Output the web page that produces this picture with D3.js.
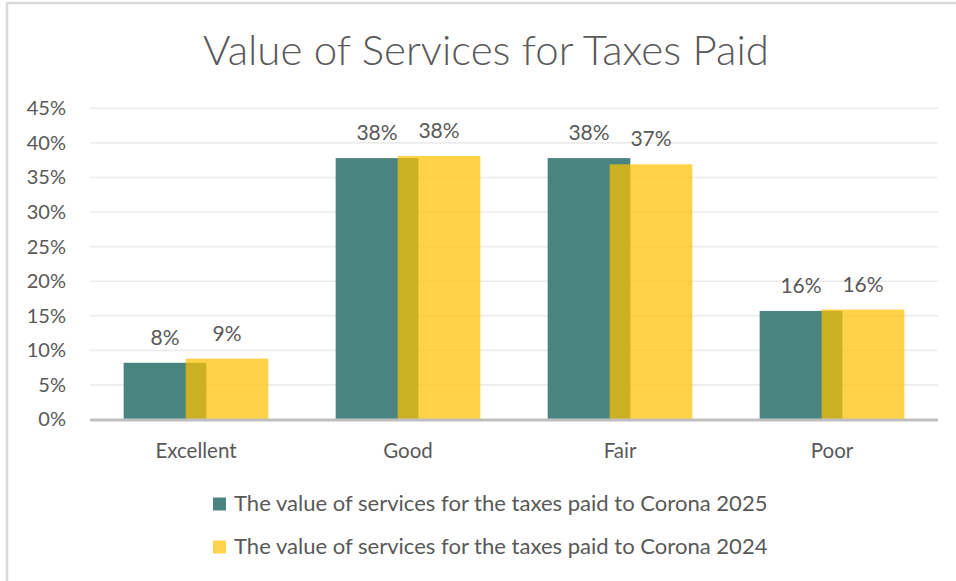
<!DOCTYPE html>
<html>
<head>
<meta charset="utf-8">
<script src="https://cdn.jsdelivr.net/npm/d3@7"></script>
<style>
  html, body { margin: 0; padding: 0; background: #ffffff; }
  svg { display: block; }
  text { font-family: "Lato", "Open Sans", "DejaVu Sans", sans-serif; fill: #595959; }
</style>
</head>
<body>
<svg id="chart" width="956" height="581"></svg>
<script>
// Survey results: rating of the value of services received for taxes paid
const categories = ["Excellent", "Good", "Fair", "Poor"];
const values2025 = [0.082, 0.378, 0.378, 0.157];
const values2024 = [0.088, 0.381, 0.369, 0.159];
const yTickValues = [0, 0.05, 0.10, 0.15, 0.20, 0.25, 0.30, 0.35, 0.40, 0.45];
const seriesNames = [
  "The value of services for the taxes paid to Corona 2025",
  "The value of services for the taxes paid to Corona 2024"
];
const titleText = "Value of Services for Taxes Paid";

const W = 956, H = 581;
const svg = d3.select("#chart");
const pct = d3.format(".0%");

// chart frame
svg.append("line").attr("x1", 6).attr("x2", W).attr("y1", 3).attr("y2", 3)
  .attr("stroke", "#d9d9d9").attr("stroke-width", 2.5);
svg.append("line").attr("x1", 7).attr("x2", 7).attr("y1", 2).attr("y2", H)
  .attr("stroke", "#d9d9d9").attr("stroke-width", 2.5);

// helper: pick a font size so a string spans the given width
function fitSize(sel, targetWidth) {
  sel.attr("font-size", 100);
  const w = sel.node().getComputedTextLength();
  sel.attr("font-size", 100 * targetWidth / w);
}

// title
const title = svg.append("text")
  .attr("x", 486).attr("y", 65)
  .attr("text-anchor", "middle")
  .attr("font-weight", 300)
  .text(titleText);
fitSize(title, 566);

// scales
const plot = { left: 90, right: 938, top: 108.3, bottom: 419.5 };
const x = d3.scaleBand().domain(categories).range([plot.left, plot.right]).padding(0);
const y = d3.scaleLinear().domain([0, 0.45]).range([plot.bottom, plot.top]);

const barW = x.bandwidth() * 0.39;
const shift = barW * 0.75;   // bars overlap by a quarter of their width

// gridlines
svg.append("g").selectAll("line").data(yTickValues.filter(d => d > 0)).join("line")
  .attr("x1", plot.left).attr("x2", plot.right)
  .attr("y1", d => y(d)).attr("y2", d => y(d))
  .attr("stroke", "#ececec").attr("stroke-width", 1.6);

// y axis labels
const yAxis = d3.axisLeft(y).tickValues(yTickValues).tickFormat(pct).tickSize(0).tickPadding(0);
const gy = svg.append("g").attr("transform", `translate(66,0)`).call(yAxis);
gy.select(".domain").remove();
gy.selectAll("text").attr("font-size", 20).attr("fill", "#595959")
  .style("font-family", "Lato, 'Open Sans', sans-serif");

// bars
const rows = categories.map((c, i) => ({ c, v25: values2025[i], v24: values2024[i] }));
const cx = d => x(d.c) + x.bandwidth() / 2;

svg.append("g").selectAll("rect").data(rows).join("rect")
  .attr("x", d => cx(d) - shift / 2 - barW / 2)
  .attr("y", d => y(d.v25))
  .attr("width", barW)
  .attr("height", d => y(0) - y(d.v25))
  .attr("fill", "#4a8480");

svg.append("g").selectAll("rect").data(rows).join("rect")
  .attr("x", d => cx(d) + shift / 2 - barW / 2)
  .attr("y", d => y(d.v24))
  .attr("width", barW)
  .attr("height", d => y(0) - y(d.v24))
  .attr("fill", "#ffc000")
  .attr("fill-opacity", 0.72);

// x axis line
svg.append("line")
  .attr("x1", plot.left).attr("x2", plot.right)
  .attr("y1", y(0) + 0.5).attr("y2", y(0) + 0.5)
  .attr("stroke", "#bfbfbf").attr("stroke-width", 3);

// category labels
const xAxis = d3.axisBottom(x).tickSize(0).tickPadding(0);
const gx = svg.append("g").attr("transform", `translate(0,${y(0) + 24})`).call(xAxis);
gx.select(".domain").remove();
gx.selectAll("text").attr("font-size", 20.5).attr("fill", "#595959")
  .style("font-family", "Lato, 'Open Sans', sans-serif");

// value labels
const labels = svg.append("g").attr("font-size", 21).attr("text-anchor", "middle");
labels.selectAll("text.v25").data(rows).join("text").attr("class", "v25")
  .attr("x", d => cx(d) - shift / 2)
  .attr("y", d => y(d.v25) - 18)
  .text(d => pct(d.v25));
labels.selectAll("text.v24").data(rows).join("text").attr("class", "v24")
  .attr("x", d => cx(d) + shift / 2)
  .attr("y", d => y(d.v24) - 18)
  .text(d => pct(d.v24));

// legend
const legendColors = ["#4a8480", "#ffd34c"];
const legend = svg.append("g");
seriesNames.forEach((name, i) => {
  const ly = 504 + i * 43;
  legend.append("rect")
    .attr("x", 213).attr("y", ly - 6.5).attr("width", 13).attr("height", 13)
    .attr("fill", legendColors[i]);
  const t = legend.append("text")
    .attr("x", 234).attr("y", ly + 7)
    .text(name);
  fitSize(t, 534);
});
</script>
</body>
</html>
